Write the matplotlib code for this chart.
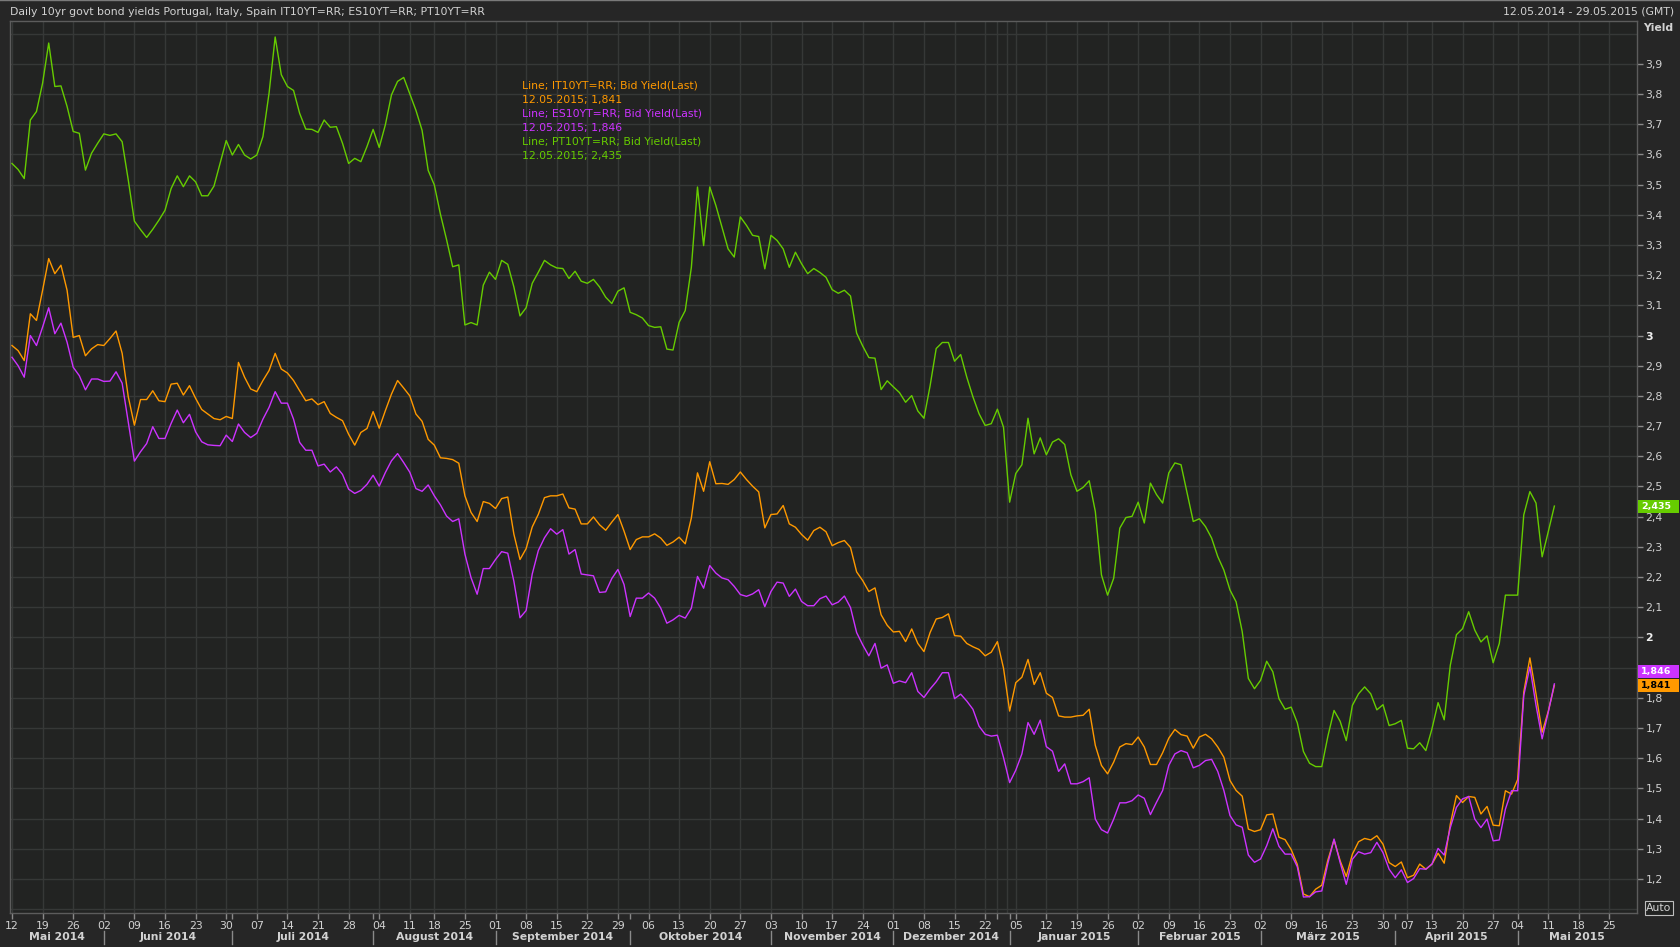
import matplotlib
matplotlib.use("Agg")
import matplotlib.pyplot as plt
import matplotlib.transforms as mtransforms
from matplotlib.patches import Rectangle
import numpy as np
import pandas as pd

plt.rcParams["font.family"] = "DejaVu Sans"
plt.rcParams["font.size"] = 7.8

# trading calendar (weekdays without market holidays), 12.05.2014 - 29.05.2015
HOLIDAYS = ["2014-08-15", "2014-12-24", "2014-12-25", "2014-12-26", "2014-12-31",
            "2015-01-01", "2015-04-03", "2015-04-06", "2015-05-01"]
SKIP_DAY_LABELS = ["2014-12-29"]

MONTH_NAMES = ["Januar", "Februar", "März", "April", "Mai", "Juni", "Juli",
               "August", "September", "Oktober", "November", "Dezember"]

# Bid yield (last), PT10YT=RR
portugal = [
    3.570, 3.550, 3.520, 3.714, 3.742, 3.836, 3.969, 3.825, 3.827, 3.759,
    3.676, 3.670, 3.548, 3.604, 3.637, 3.668, 3.663, 3.668, 3.642, 3.515,
    3.379, 3.351, 3.325, 3.352, 3.382, 3.415, 3.487, 3.529, 3.493, 3.529,
    3.509, 3.463, 3.463, 3.495, 3.570, 3.646, 3.598, 3.633, 3.598, 3.585,
    3.598, 3.659, 3.803, 3.989, 3.864, 3.825, 3.812, 3.736, 3.684, 3.683,
    3.673, 3.714, 3.690, 3.692, 3.637, 3.570, 3.587, 3.576, 3.626, 3.683,
    3.623, 3.698, 3.797, 3.842, 3.855, 3.800, 3.746, 3.680, 3.547, 3.499,
    3.402, 3.318, 3.228, 3.234, 3.035, 3.043, 3.035, 3.167, 3.210, 3.186,
    3.249, 3.236, 3.161, 3.065, 3.092, 3.173, 3.210, 3.249, 3.234, 3.224,
    3.222, 3.189, 3.213, 3.180, 3.173, 3.186, 3.161, 3.127, 3.106, 3.147,
    3.158, 3.077, 3.069, 3.058, 3.033, 3.027, 3.029, 2.955, 2.952, 3.044,
    3.083, 3.226, 3.492, 3.298, 3.492, 3.431, 3.359, 3.287, 3.260, 3.393,
    3.365, 3.332, 3.328, 3.221, 3.332, 3.315, 3.287, 3.226, 3.276, 3.238,
    3.205, 3.222, 3.209, 3.193, 3.152, 3.140, 3.150, 3.131, 3.008, 2.965,
    2.927, 2.925, 2.821, 2.850, 2.830, 2.811, 2.779, 2.801, 2.750, 2.726,
    2.833, 2.957, 2.977, 2.977, 2.915, 2.937, 2.862, 2.797, 2.741, 2.702,
    2.708, 2.756, 2.696, 2.448, 2.543, 2.572, 2.726, 2.608, 2.661, 2.605,
    2.647, 2.658, 2.639, 2.539, 2.484, 2.497, 2.519, 2.417, 2.207, 2.140,
    2.196, 2.362, 2.397, 2.401, 2.448, 2.379, 2.511, 2.473, 2.445, 2.545,
    2.578, 2.572, 2.478, 2.384, 2.393, 2.367, 2.329, 2.268, 2.223, 2.157,
    2.118, 2.019, 1.864, 1.830, 1.858, 1.921, 1.886, 1.797, 1.762, 1.769,
    1.717, 1.622, 1.583, 1.572, 1.572, 1.673, 1.758, 1.722, 1.658, 1.775,
    1.813, 1.836, 1.813, 1.760, 1.777, 1.708, 1.714, 1.725, 1.633, 1.631,
    1.651, 1.625, 1.697, 1.784, 1.727, 1.908, 2.009, 2.029, 2.085, 2.024,
    1.985, 2.005, 1.916, 1.980, 2.140, 2.140, 2.140, 2.406, 2.483, 2.445,
    2.267, 2.350, 2.435,
]

# Bid yield (last), IT10YT=RR
italy = [
    2.967, 2.950, 2.917, 3.072, 3.050, 3.150, 3.255, 3.205, 3.233, 3.150,
    2.994, 3.000, 2.933, 2.956, 2.970, 2.967, 2.990, 3.015, 2.941, 2.797,
    2.703, 2.788, 2.788, 2.817, 2.784, 2.781, 2.839, 2.842, 2.803, 2.834,
    2.792, 2.755, 2.740, 2.725, 2.721, 2.732, 2.725, 2.911, 2.862, 2.823,
    2.814, 2.851, 2.884, 2.941, 2.889, 2.876, 2.851, 2.817, 2.784, 2.790,
    2.771, 2.781, 2.742, 2.729, 2.718, 2.673, 2.637, 2.679, 2.692, 2.748,
    2.693, 2.751, 2.806, 2.851, 2.826, 2.800, 2.740, 2.716, 2.656, 2.637,
    2.595, 2.593, 2.589, 2.577, 2.469, 2.414, 2.384, 2.450, 2.444, 2.427,
    2.460, 2.465, 2.342, 2.258, 2.294, 2.366, 2.408, 2.463, 2.469, 2.469,
    2.475, 2.429, 2.425, 2.376, 2.376, 2.399, 2.373, 2.355, 2.382, 2.407,
    2.352, 2.291, 2.324, 2.333, 2.333, 2.343, 2.329, 2.305, 2.316, 2.332,
    2.310, 2.396, 2.545, 2.484, 2.582, 2.509, 2.510, 2.507, 2.523, 2.548,
    2.523, 2.501, 2.482, 2.363, 2.407, 2.409, 2.437, 2.376, 2.365, 2.341,
    2.322, 2.354, 2.365, 2.350, 2.304, 2.314, 2.321, 2.298, 2.217, 2.188,
    2.152, 2.164, 2.075, 2.040, 2.018, 2.020, 1.986, 2.028, 1.980, 1.953,
    2.016, 2.061, 2.066, 2.078, 2.006, 2.004, 1.980, 1.969, 1.960, 1.939,
    1.951, 1.986, 1.898, 1.756, 1.850, 1.868, 1.927, 1.844, 1.883, 1.815,
    1.801, 1.740, 1.736, 1.736, 1.740, 1.742, 1.762, 1.642, 1.576, 1.548,
    1.587, 1.637, 1.648, 1.645, 1.670, 1.637, 1.579, 1.579, 1.618, 1.666,
    1.695, 1.678, 1.673, 1.633, 1.670, 1.679, 1.664, 1.637, 1.603, 1.526,
    1.493, 1.474, 1.365, 1.357, 1.363, 1.412, 1.415, 1.338, 1.330, 1.297,
    1.248, 1.150, 1.141, 1.166, 1.179, 1.263, 1.329, 1.260, 1.208, 1.282,
    1.323, 1.334, 1.329, 1.343, 1.315, 1.254, 1.241, 1.256, 1.204, 1.212,
    1.249, 1.232, 1.249, 1.285, 1.252, 1.382, 1.476, 1.453, 1.473, 1.470,
    1.415, 1.440, 1.378, 1.376, 1.492, 1.481, 1.529, 1.819, 1.932, 1.813,
    1.686, 1.755, 1.841,
]

# Bid yield (last), ES10YT=RR
spain = [
    2.928, 2.900, 2.862, 3.000, 2.967, 3.028, 3.092, 3.006, 3.041, 2.978,
    2.895, 2.867, 2.820, 2.856, 2.856, 2.848, 2.849, 2.880, 2.842, 2.714,
    2.584, 2.615, 2.642, 2.698, 2.659, 2.659, 2.709, 2.753, 2.711, 2.739,
    2.681, 2.648, 2.638, 2.636, 2.635, 2.670, 2.649, 2.707, 2.679, 2.662,
    2.676, 2.723, 2.762, 2.814, 2.776, 2.776, 2.723, 2.646, 2.620, 2.620,
    2.568, 2.574, 2.548, 2.565, 2.540, 2.491, 2.477, 2.487, 2.507, 2.537,
    2.501, 2.546, 2.585, 2.609, 2.579, 2.547, 2.493, 2.484, 2.505, 2.469,
    2.439, 2.402, 2.384, 2.393, 2.276, 2.198, 2.143, 2.228, 2.228, 2.258,
    2.284, 2.279, 2.186, 2.065, 2.089, 2.210, 2.288, 2.330, 2.360, 2.342,
    2.357, 2.276, 2.291, 2.210, 2.207, 2.204, 2.149, 2.151, 2.195, 2.225,
    2.175, 2.069, 2.130, 2.130, 2.147, 2.130, 2.097, 2.047, 2.058, 2.073,
    2.064, 2.097, 2.202, 2.163, 2.238, 2.213, 2.197, 2.191, 2.169, 2.142,
    2.136, 2.144, 2.158, 2.102, 2.152, 2.183, 2.180, 2.136, 2.160, 2.119,
    2.105, 2.105, 2.128, 2.137, 2.108, 2.117, 2.137, 2.099, 2.016, 1.975,
    1.939, 1.980, 1.898, 1.909, 1.848, 1.856, 1.850, 1.883, 1.821, 1.801,
    1.829, 1.853, 1.883, 1.883, 1.797, 1.812, 1.789, 1.762, 1.706, 1.679,
    1.673, 1.676, 1.602, 1.519, 1.560, 1.614, 1.718, 1.679, 1.726, 1.638,
    1.623, 1.556, 1.581, 1.515, 1.515, 1.522, 1.535, 1.398, 1.363, 1.352,
    1.398, 1.452, 1.452, 1.459, 1.478, 1.467, 1.413, 1.454, 1.493, 1.576,
    1.614, 1.625, 1.618, 1.568, 1.576, 1.592, 1.596, 1.556, 1.493, 1.410,
    1.379, 1.371, 1.279, 1.255, 1.266, 1.310, 1.366, 1.308, 1.282, 1.282,
    1.240, 1.140, 1.141, 1.157, 1.160, 1.252, 1.332, 1.254, 1.182, 1.265,
    1.290, 1.282, 1.287, 1.321, 1.287, 1.232, 1.204, 1.230, 1.188, 1.201,
    1.234, 1.232, 1.249, 1.301, 1.279, 1.370, 1.437, 1.465, 1.473, 1.398,
    1.370, 1.398, 1.326, 1.329, 1.431, 1.492, 1.492, 1.808, 1.902, 1.775,
    1.664, 1.752, 1.846,
]

C_PT = "#66cc00"
C_IT = "#ff9900"
C_ES = "#cc33ff"
TXT = "#d2d2d2"
GRID = "#363837"

W, H = 1680, 947


def fx(px):
    return px / W


def fy(py):
    return 1 - py / H


def comma(v):
    return f"{v:.3f}".replace(".", ",")


days = pd.bdate_range("2014-05-12", "2015-05-29")
days = days[~days.isin(pd.to_datetime(HOLIDAYS))]
idx = np.arange(len(days))
n = len(portugal)

fig = plt.figure(figsize=(W / 100, H / 100), dpi=100, facecolor="#262626")
ax = fig.add_axes([fx(9.6), fy(913), fx(1637 - 9.6), (913 - 21) / H])
ax.set_facecolor("#222322")
ax.set_xlim(-0.39, 265.5)
ax.set_ylim(1.087, 4.042)

# horizontal grid
for v in np.arange(1.1, 4.05, 0.1):
    ax.axhline(v, color=GRID, lw=1.0, zorder=1)

# weekly ticks / grid, month starts
week = days.to_period("W")
week_pos = [i for i in idx if i == 0 or week[i] != week[i - 1]]
month_pos = [i for i in idx if i > 0 and days[i].month != days[i - 1].month]
for p in week_pos:
    ax.axvline(p, color=GRID, lw=1.0, zorder=1)
# year change
ax.axvline(162.5, color=GRID, lw=1.0, zorder=1)

ax.plot(idx[:n], portugal, color=C_PT, lw=1.0, zorder=4)
ax.plot(idx[:n], italy, color=C_IT, lw=1.0, zorder=3)
ax.plot(idx[:n], spain, color=C_ES, lw=1.0, zorder=3)

for s in ax.spines.values():
    s.set_color("#5c5c5c")
    s.set_linewidth(1.0)

# y axis on the right
yt = np.round(np.arange(1.2, 3.95, 0.1), 1)
ax.yaxis.tick_right()
ax.set_yticks(yt)
labels = []
for v in yt:
    if abs(v - 1.9) < 1e-6:
        labels.append("")  # covered by the last-value box
    elif abs(v - round(v)) < 1e-6:
        labels.append(str(int(round(v))))
    else:
        labels.append(f"{v:.1f}".replace(".", ","))
ax.set_yticklabels(labels)
ax.tick_params(axis="y", colors="#8a8a8a", labelcolor=TXT, length=4, width=1, pad=2, labelsize=7.8)
for lab, v in zip(ax.get_yticklabels(), yt):
    if abs(v - round(v)) < 1e-6:
        lab.set_fontweight("bold")
        lab.set_color("#eeeeee")

# x axis: weekly day numbers
skip = set(pd.to_datetime(SKIP_DAY_LABELS))
ax.set_xticks(week_pos)
ax.set_xticklabels(["" if days[p] in skip else f"{days[p].day:02d}" for p in week_pos])
ax.set_xticks(month_pos, minor=True)
ax.tick_params(axis="x", which="both", colors="#8a8a8a", labelcolor=TXT, length=4, width=1, pad=1.5, labelsize=7.8)

# month labels with separators
bt = mtransforms.blended_transform_factory(ax.transData, fig.transFigure)
bounds = [ax.get_xlim()[0]] + month_pos + [ax.get_xlim()[1]]
starts = [0] + month_pos
for k, st in enumerate(starts):
    d = days[st]
    c = (bounds[k] + bounds[k + 1]) / 2
    ax.text(c, fy(937), f"{MONTH_NAMES[d.month - 1]} {d.year}", transform=bt, ha="center",
            va="center", fontsize=7.8, fontweight="bold", color=TXT, clip_on=False)
for p in month_pos:
    ax.plot([p, p], [fy(931), fy(944)], transform=bt, color="#8a8a8a", lw=1.0, clip_on=False)

# header
fig.text(fx(10), fy(12), "Daily 10yr govt bond yields Portugal, Italy, Spain IT10YT=RR; ES10YT=RR; PT10YT=RR",
         ha="left", va="center", color=TXT, fontsize=7.8)
fig.text(fx(1674), fy(12), "12.05.2014 - 29.05.2015 (GMT)", ha="right", va="center", color=TXT, fontsize=7.8)
fig.text(fx(1643), fy(28), "Yield", ha="left", va="center", color=TXT, fontsize=7.8, fontweight="bold")
fig.text(fx(1659), fy(908), "Auto", ha="center", va="center", color=TXT, fontsize=7.8,
         bbox=dict(boxstyle="square,pad=0.15", fc="#222322", ec="#bfbfbf", lw=0.8))
fig.add_artist(plt.Line2D([0, 1], [fy(0.5), fy(0.5)], color="#7a7a7a", lw=1.0))

# info block
info = [
    ("Line; IT10YT=RR; Bid Yield(Last)", C_IT),
    ("12.05.2015; " + comma(italy[-1]), C_IT),
    ("Line; ES10YT=RR; Bid Yield(Last)", C_ES),
    ("12.05.2015; " + comma(spain[-1]), C_ES),
    ("Line; PT10YT=RR; Bid Yield(Last)", C_PT),
    ("12.05.2015; " + comma(portugal[-1]), C_PT),
]
for k, (t, c) in enumerate(info):
    fig.text(fx(522), fy(86 + 14 * k), t, ha="left", va="center", color=c, fontsize=7.8)


# last-value boxes on the right axis
def to_fig(v):
    return fig.transFigure.inverted().transform(ax.transData.transform((0, v)))[1]


last_boxes = [
    (portugal[-1], 0.0, C_PT, "white"),
    (spain[-1], 12.0 / H, C_ES, "white"),
    (italy[-1], 0.0, C_IT, "black"),
]
for v, shift, c, tc in last_boxes:
    yc = to_fig(v) + shift
    fig.add_artist(Rectangle((fx(1638), yc - 6.5 / H), fx(41), 13 / H, transform=fig.transFigure,
                             facecolor=c, edgecolor="none"))
    fig.text(fx(1641), yc, comma(v), ha="left", va="center", color=tc, fontsize=6.8, fontweight="bold")

fig.savefig("out.png", dpi=100, facecolor=fig.get_facecolor())
